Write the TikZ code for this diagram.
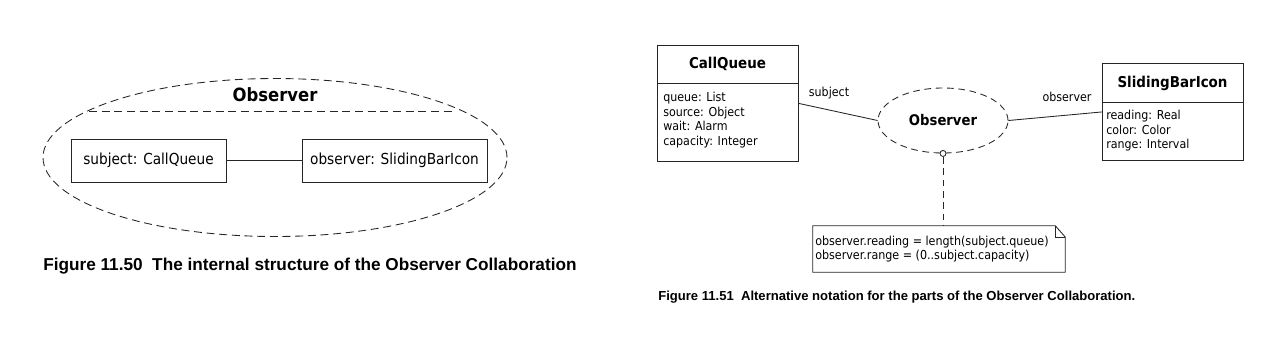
\documentclass[tikz,border=0pt]{standalone}
\usepackage{fontspec}
\setmainfont{DejaVu Sans}[FakeStretch=0.9]
\newfontfamily\capfont{Liberation Sans}
\usetikzlibrary{shapes.geometric}
\tikzset{
  ln/.style={line width=0.65pt, draw=black!85},
  dsh/.style={ln, dash pattern=on 6pt off 3.5pt},
  dshs/.style={ln, dash pattern=on 5pt off 3.5pt},
  partbox/.style={ln, rectangle, inner sep=0pt, minimum height=32.25pt, font=\fontsize{11.4}{13}\selectfont},
  classbox/.style={ln, rectangle, inner sep=0pt, anchor=north west, minimum width=105.75pt},
  cname/.style={inner sep=0pt, font=\fontsize{11.2}{13}\selectfont\bfseries},
  attrs/.style={inner sep=0pt, anchor=north west, align=left, font=\fontsize{9.24}{11}\selectfont},
  lbl/.style={inner sep=0pt, font=\fontsize{9.24}{11}\selectfont},
  caption/.style={inner sep=0pt, anchor=base west, font=\capfont\bfseries},
}
\begin{document}
\begin{tikzpicture}[x=0.75pt,y=-0.75pt]
\useasboundingbox (0,0) rectangle (1280,340);
% ---------- Figure 11.50 ----------
\node[dsh, ellipse, inner sep=0pt, minimum width=348pt, minimum height=118.5pt] (collab) at (275,157.5) {};
\coordinate (chordL) at (89,111.5);
\coordinate (chordR) at (455,111.5);
\draw[dsh] (chordL) -- (chordR);
\node[cname, font=\fontsize{13.7}{15}\selectfont\bfseries] (ctitle) at (275,95) {Observer};
\node[partbox, minimum width=116.25pt] (subj) at (148.5,160.5) {subject: CallQueue};
\node[partbox, minimum width=138.75pt] (obsv) at (394.5,160.5) {observer: SlidingBarIcon};
\draw[ln] (subj) -- (obsv);
\node[caption, font=\capfont\bfseries\fontsize{12.9}{15}\selectfont] (cap1) at (43,270) {Figure 11.50\ \ The internal structure of the Observer Collaboration};
% ---------- Figure 11.51 ----------
\node[classbox, minimum height=87pt] (cq) at (657,45) {};
\draw[ln] ([yshift=-28.5pt]cq.north west) -- ([yshift=-28.5pt]cq.north east);
\node[cname] (cqname) at (727.5,64) {CallQueue};
\node[attrs] (cqattr) at (663,92) {queue: List\\source: Object\\wait: Alarm\\capacity: Integer};

\node[classbox, minimum height=72.75pt] (sbi) at (1102,63) {};
\draw[ln] ([yshift=-29.25pt]sbi.north west) -- ([yshift=-29.25pt]sbi.north east);
\node[cname] (sbiname) at (1172.5,83) {SlidingBarIcon};
\node[attrs] (sbiattr) at (1106,110) {reading: Real\\color: Color\\range: Interval};

\node[dshs, ellipse, inner sep=0pt, minimum width=97.5pt, minimum height=48.75pt, font=\fontsize{11}{13}\selectfont\bfseries] (obs) at (943,120.5) {Observer};
\draw[ln] (cq.east) -- (obs.west);
\draw[ln] (obs.east) -- (sbi.west);
\node[lbl] (lsubj) at (829,93) {subject};
\node[lbl] (lobsv) at (1067,97) {observer};

\node[inner sep=0pt, minimum width=189pt, minimum height=34.5pt] (note) at (939,249) {};
\draw[ln] (note.north west) -- ([xshift=-7.5pt]note.north east) -- ([yshift=-8.5pt]note.north east) -- (note.south east) -- (note.south west) -- cycle;
\draw[ln] ([xshift=-7.5pt]note.north east) -- ([xshift=-7.5pt,yshift=-8.5pt]note.north east) -- ([yshift=-8.5pt]note.north east);
\node[attrs, font=\fontsize{9.28}{10.6}\selectfont] (ntext) at (815,236) {observer.reading = length(subject.queue)\\observer.range = (0..subject.capacity)};
\node[circle, ln, fill=white, inner sep=0pt, minimum size=4.5pt] (port) at (obs.south) {};
\draw[dshs] (port) -- (port |- note.north);

\node[caption, font=\capfont\bfseries\fontsize{9.8}{12}\selectfont] (cap2) at (658,300) {Figure 11.51\ \ Alternative notation for the parts of the Observer Collaboration.};
\end{tikzpicture}
\end{document}
